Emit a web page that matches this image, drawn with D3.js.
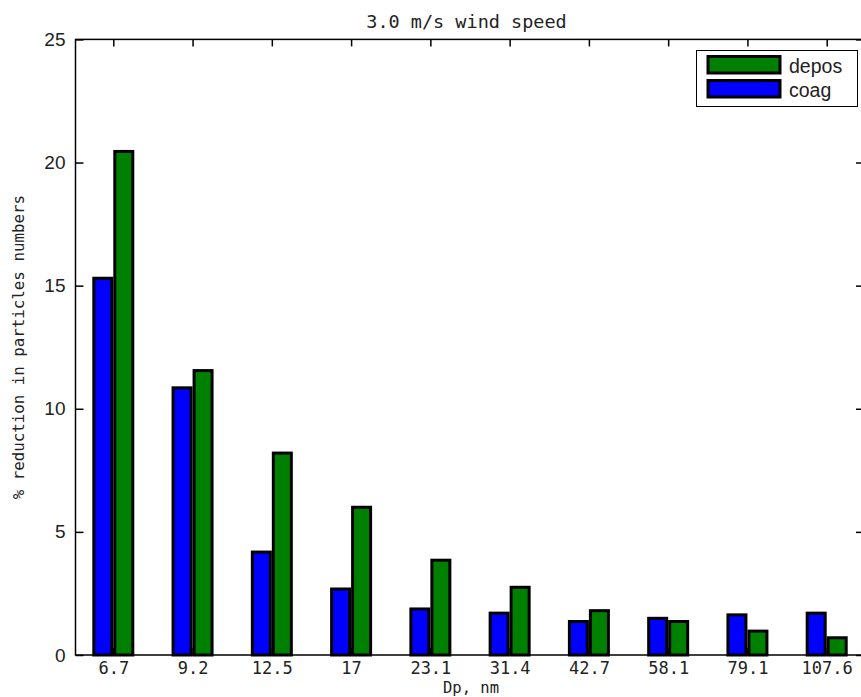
<!DOCTYPE html>
<html>
<head>
<meta charset="utf-8">
<script src="https://cdn.jsdelivr.net/npm/d3@7"></script>
<style>
  body { margin: 0; background: #fff; }
  .mono { font-family: "DejaVu Sans Mono", monospace; }
  .sans { font-family: "Liberation Sans", Arial, sans-serif; }
</style>
</head>
<body>
<div id="chart"></div>
<script>
// particle diameters, nm
const categories = ['6.7', '9.2', '12.5', '17', '23.1', '31.4', '42.7', '58.1', '79.1', '107.6'];
// % reduction due to coagulation
const coag = [15.3, 10.85, 4.18, 2.68, 1.87, 1.7, 1.36, 1.49, 1.63, 1.7];
// % reduction due to deposition
const depos = [20.45, 11.55, 8.2, 6.0, 3.85, 2.75, 1.8, 1.36, 0.97, 0.7];
const yTicks = [0, 5, 10, 15, 20, 25];
const seriesNames = ['coag', 'depos'];
const seriesColor = { coag: '#0000ff', depos: '#008000' };

const outerWidth = 861;
const outerHeight = 697;
const plot = { left: 75.5, right: 864, top: 39.4, bottom: 655 };

const svg = d3.select('#chart').append('svg')
    .attr('width', outerWidth)
    .attr('height', outerHeight);

svg.append('rect')
    .attr('width', outerWidth)
    .attr('height', outerHeight)
    .attr('fill', '#fff');

const x = d3.scalePoint().domain(categories).range([113.3, 826.7]);
const sub = d3.scaleBand().domain(seriesNames).range([-21, 21]);
const y = d3.scaleLinear().domain([0, 25]).range([plot.bottom, plot.top]);

const rows = categories.map((c, i) => ({ cat: c, coag: coag[i], depos: depos[i] }));

// bars
const groups = svg.append('g')
    .selectAll('g')
    .data(rows)
    .join('g')
    .attr('transform', d => `translate(${x(d.cat)},0)`);

groups.selectAll('rect')
    .data(d => seriesNames.map(k => ({ key: k, value: d[k] })))
    .join('rect')
    .attr('x', d => sub(d.key) + 1.5)
    .attr('width', sub.bandwidth() - 3)
    .attr('y', d => y(d.value))
    .attr('height', d => y(0) - y(d.value))
    .attr('fill', d => seriesColor[d.key])
    .attr('stroke', '#000')
    .attr('stroke-width', 3);

// axes
const gLeft = svg.append('g')
    .attr('transform', `translate(${plot.left},0)`)
    .call(d3.axisLeft(y).tickValues(yTicks).tickSizeInner(-8).tickSizeOuter(0).tickPadding(10));
gLeft.selectAll('text').attr('class', 'sans').attr('font-size', 19).attr('fill', '#222');

svg.append('g')
    .attr('transform', `translate(${plot.right},0)`)
    .call(d3.axisRight(y).tickValues(yTicks).tickSizeInner(-8).tickSizeOuter(0).tickFormat(''));

svg.append('g')
    .attr('transform', `translate(0,${plot.top})`)
    .call(d3.axisTop(x).tickSizeInner(-7).tickSizeOuter(0).tickFormat(''));

const gBottom = svg.append('g')
    .attr('transform', `translate(0,${plot.bottom})`)
    .call(d3.axisBottom(x).tickSizeInner(-7).tickSizeOuter(0).tickPadding(7.4));
gBottom.selectAll('text').attr('class', 'mono').attr('font-size', 17).attr('fill', '#222');

svg.selectAll('.domain').remove();
svg.selectAll('.tick line').attr('stroke', '#000').attr('stroke-width', 1.5);

// frame
svg.append('rect')
    .attr('x', plot.left)
    .attr('y', plot.top)
    .attr('width', plot.right - plot.left)
    .attr('height', plot.bottom - plot.top)
    .attr('fill', 'none')
    .attr('stroke', '#000')
    .attr('stroke-width', 1.5);

// titles
svg.append('text')
    .attr('class', 'mono')
    .attr('x', 466.5)
    .attr('y', 27.5)
    .attr('text-anchor', 'middle')
    .attr('font-size', 18.5)
    .attr('fill', '#222')
    .text('3.0 m/s wind speed');

svg.append('text')
    .attr('class', 'mono')
    .attr('x', 471)
    .attr('y', 693)
    .attr('text-anchor', 'middle')
    .attr('font-size', 15.5)
    .attr('fill', '#222')
    .text('Dp, nm');

svg.append('text')
    .attr('class', 'mono')
    .attr('transform', `translate(24,${(plot.top + plot.bottom) / 2}) rotate(-90)`)
    .attr('text-anchor', 'middle')
    .attr('font-size', 15.8)
    .attr('fill', '#222')
    .text('% reduction in particles numbers');

// legend
const legend = svg.append('g').attr('transform', 'translate(696.5,50.5)');
legend.append('rect')
    .attr('width', 161)
    .attr('height', 56)
    .attr('fill', '#fff')
    .attr('stroke', '#000')
    .attr('stroke-width', 1);

const legendItems = ['depos', 'coag'];
legendItems.forEach((k, i) => {
    legend.append('rect')
        .attr('x', 11.5)
        .attr('y', 6 + i * 24)
        .attr('width', 72)
        .attr('height', 16.5)
        .attr('fill', seriesColor[k])
        .attr('stroke', '#000')
        .attr('stroke-width', 3);
    legend.append('text')
        .attr('class', 'sans')
        .attr('x', 92.5)
        .attr('y', 22.5 + i * 24)
        .attr('font-size', 19.5)
        .attr('fill', '#222')
        .text(k);
});
</script>
</body>
</html>
